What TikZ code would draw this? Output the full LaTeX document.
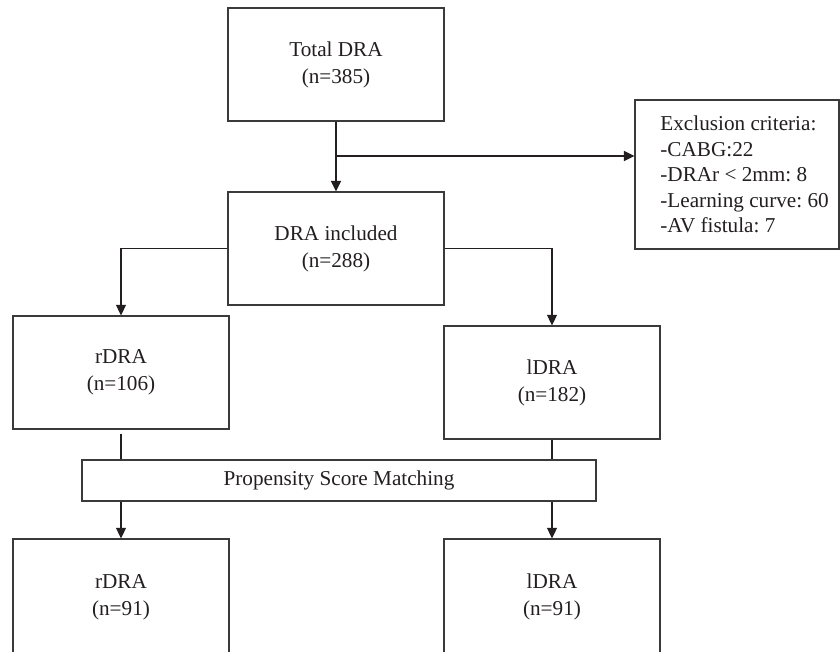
\documentclass[tikz,border=0pt]{standalone}
\usepackage{fontspec}
\setmainfont{Liberation Serif}
\usetikzlibrary{arrows.meta,calc}
\definecolor{ink}{HTML}{231F20}
\definecolor{edge}{HTML}{3A3A3A}
\frenchspacing
\begin{document}
\begin{tikzpicture}[x=0.5pt,y=-0.5pt,
  box/.style={draw=edge,line width=0.55pt,minimum width=108pt,minimum height=56.5pt,inner sep=0pt,align=center,text=ink,font=\fontsize{10.6pt}{13.5pt}\selectfont},
  wire/.style={draw=ink,line width=0.55pt},
  arrowline/.style={wire,-{Triangle[length=5.3pt,width=5pt]}},
  thickarrow/.style={draw=ink,line width=0.85pt,-{Triangle[length=5.3pt,width=5pt]}}]
\useasboundingbox (0,0) rectangle (840,652);
\fill[white] (0,0) rectangle (840,652);
\clip (0,0) rectangle (840,652);
\node[box] (total) at (336,64.5) {Total DRA\\(n=385)};
\node[box] (incl) at (336,248.5) {DRA included\\(n=288)};
\node[box,minimum width=102pt,minimum height=74.5pt] (excl) at (737,174.5) {};
\node[anchor=west,align=left,inner sep=0pt,text=ink,font=\fontsize{10.6pt}{12.75pt}\selectfont] (excltext) at (660,174.5) {Exclusion criteria:\\-CABG:22\\-DRAr < 2mm: 8\\-Learning curve: 60\\-AV fistula: 7};
\node[box] (rdra) at (121,372.5) {rDRA\\(n=106)};
\node[box] (ldra) at (552,382.5) {lDRA\\(n=182)};
\node[box,minimum width=257pt,minimum height=20.5pt] (psm) at (339,480.5) {Propensity Score Matching};
\node[box,minimum height=58pt] (rdra2) at (121,597) {rDRA\\(n=91)};
\node[box,minimum height=58pt] (ldra2) at (552,597) {lDRA\\(n=91)};
\coordinate (br) at (336,156);
\draw[thickarrow] (total.south) -- (incl.north);
\draw[thickarrow] (br) -- (br -| excl.west);
\draw[arrowline] (incl.west) -| (rdra.north);
\draw[arrowline] (incl.east) -| (ldra.north);
\draw[wire] ([yshift=-2pt]rdra.south) -- (rdra.south |- psm.north);
\draw[wire] (ldra.south) -- (ldra.south |- psm.north);
\draw[arrowline] (rdra2.north |- psm.south) -- (rdra2.north);
\draw[arrowline] (ldra2.north |- psm.south) -- (ldra2.north);
\end{tikzpicture}
\end{document}
